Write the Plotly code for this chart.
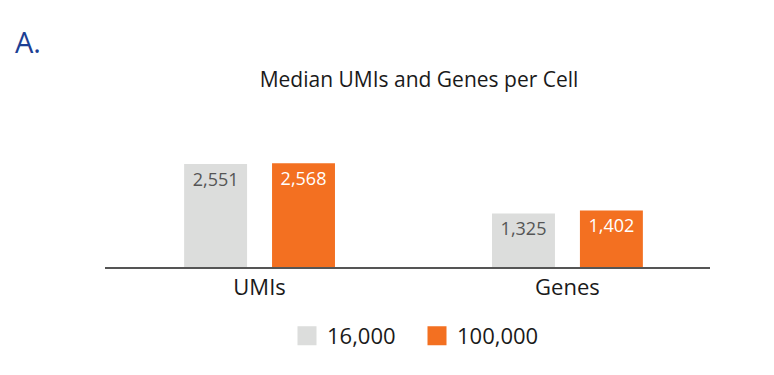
import plotly.graph_objects as go

categories = ["UMIs", "Genes"]
series_names = ["16,000", "100,000"]
values_16k = [2551, 1325]
values_100k = [2568, 1402]
labels_16k = ["2,551", "1,325"]
labels_100k = ["2,568", "1,402"]

GRAY = "#dcdddc"
ORANGE = "#f37021"
FONT = "Open Sans"

fig = go.Figure()
fig.add_trace(go.Bar(
    x=categories, y=values_16k, name=series_names[0], marker=dict(color=GRAY, line=dict(width=0)),
    text=labels_16k, textposition="inside", insidetextanchor="end",
    textfont=dict(color="#555555", size=18, family=FONT), showlegend=False,
    constraintext="none"))
fig.add_trace(go.Bar(
    x=categories, y=values_100k, name=series_names[1], marker=dict(color=ORANGE, line=dict(width=0)),
    text=labels_100k, textposition="inside", insidetextanchor="end",
    textfont=dict(color="white", size=18, family=FONT), showlegend=False,
    constraintext="none"))
# legend entries
for nm, col in zip(series_names, [GRAY, ORANGE]):
    fig.add_trace(go.Scatter(x=[None], y=[None], mode="markers", name=nm,
                             marker=dict(symbol="square", size=16, color=col,
                                         line=dict(width=3, color=col))))

fig.update_layout(
    width=774, height=375,
    margin=dict(l=105, r=64, t=140, b=108),
    paper_bgcolor="white", plot_bgcolor="white",
    barmode="group", bargap=0.429, bargroupgap=0.284,
    font=dict(family=FONT, color="#1a1a1a"),
    title=dict(text="Median UMIs and Genes per Cell", x=419/774, xref="container", xanchor="center",
               y=1-80/375, yref="container", yanchor="middle",
               font=dict(size=21, color="#1a1a1a", family=FONT)),
    xaxis=dict(range=[-0.502, 1.463], showgrid=False, showline=True, linecolor="#555555", linewidth=1.5,
               ticks="", tickfont=dict(size=22, color="#1a1a1a"), fixedrange=True),
    yaxis=dict(range=[0, 3145], visible=False, showgrid=False, zeroline=False, fixedrange=True),
    legend=dict(orientation="h", x=417/774, xref="container", xanchor="center",
                y=1-336/375, yref="container", yanchor="middle",
                font=dict(size=22, color="#1a1a1a"), itemsizing="trace", tracegroupgap=0,
                entrywidth=85),
)
fig.add_annotation(text="A.", xref="paper", yref="paper", x=-92/605, y=1+(140-41)/127,
                   xanchor="left", yanchor="middle", showarrow=False,
                   font=dict(size=29, color="#1d3f94", family=FONT))
fig.write_html("out.html", config={"displayModeBar": False})

with open("out.html", "r", encoding="utf-8") as f:
    html = f.read()
html = html.replace("<head>", "<head><style>html,body{margin:0;padding:0;}</style>", 1)
with open("out.html", "w", encoding="utf-8") as f:
    f.write(html)
